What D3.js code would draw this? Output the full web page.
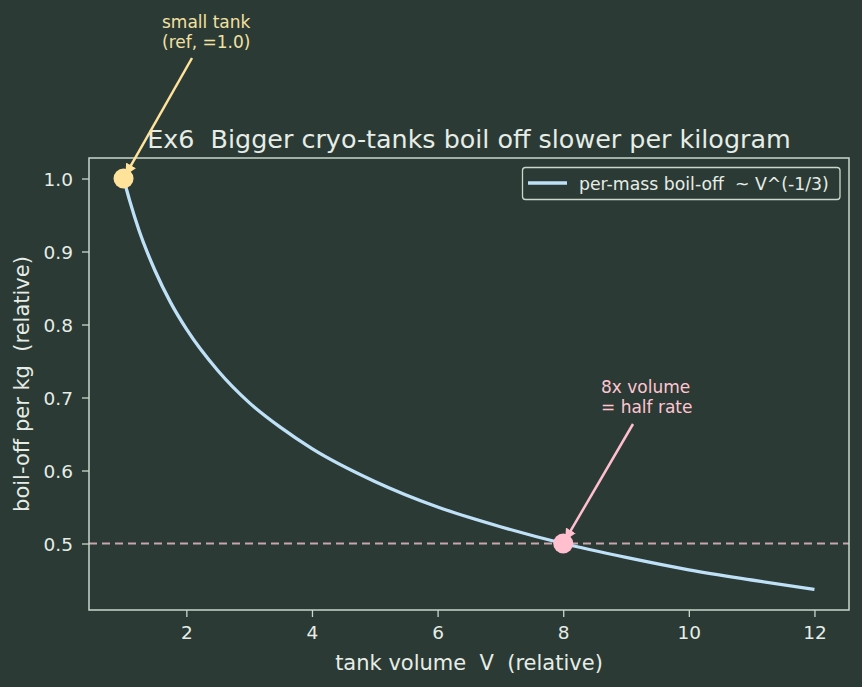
<!DOCTYPE html>
<html>
<head>
<meta charset="utf-8">
<script src="https://cdn.jsdelivr.net/npm/d3@7"></script>
<style>
  html, body { margin: 0; padding: 0; background: #2b3a34; }
  svg { display: block; }
  svg text { font-family: "DejaVu Sans", sans-serif; white-space: pre; }
</style>
</head>
<body>
<div id="chart"></div>
<script>
const volumes = [1, 1.1, 1.25, 1.5, 1.75, 2, 2.5, 3, 3.5, 4, 5, 6, 7, 8, 9, 10, 11, 12];
const boilOff = [1.0, 0.969, 0.928, 0.874, 0.830, 0.794, 0.737, 0.693, 0.659, 0.630, 0.585, 0.550, 0.523, 0.500, 0.481, 0.464, 0.450, 0.437];
const xTicks = [2, 4, 6, 8, 10, 12];
const yTicks = [0.5, 0.6, 0.7, 0.8, 0.9, 1.0];
const halfLine = 0.5;
const markers = [
  { v: 1, b: 1.0, color: '#ffe39a' },
  { v: 8, b: 0.5, color: '#ffbfcf' }
];

(function() {
  const width = 862;
  const height = 687;
  const margin = { top: 158, right: 13, bottom: 77, left: 89 };
  const fg = '#e6ede6';
  const spine = '#c9d8cb';
  const font = '"DejaVu Sans", sans-serif';

  const svg = d3.select('#chart')
    .append('svg')
    .attr('width', width)
    .attr('height', height);

  svg.append('rect').attr('width', width).attr('height', height).attr('fill', '#2b3a34');

  const x = d3.scaleLinear()
    .domain([0.45, 12.55])
    .range([margin.left, width - margin.right]);

  const y = d3.scaleLinear()
    .domain([0.4089, 1.0281])
    .range([height - margin.bottom, margin.top]);

  const defs = svg.append('defs');
  [['ahYellow', '#ffe39a'], ['ahPink', '#ffbfcf']].forEach(([id, c]) => {
    defs.append('marker')
      .attr('id', id)
      .attr('viewBox', '0 0 10 10')
      .attr('refX', 9).attr('refY', 5)
      .attr('markerWidth', 4.5).attr('markerHeight', 4.5)
      .attr('orient', 'auto')
      .append('path')
      .attr('d', 'M0,0 L10,5 L0,10 z')
      .attr('fill', c);
  });

  // dashed half-rate line
  svg.append('line')
    .attr('x1', x.range()[0]).attr('x2', x.range()[1])
    .attr('y1', y(halfLine)).attr('y2', y(halfLine))
    .attr('stroke', '#c9a6ad')
    .attr('stroke-width', 2.2)
    .attr('stroke-dasharray', '8,5');

  const pts = volumes.map((v, i) => ({ v, b: boilOff[i] }));
  svg.append('path')
    .datum(pts)
    .attr('fill', 'none')
    .attr('stroke', '#bfe1f8')
    .attr('stroke-width', 3.3)
    .attr('d', d3.line().x(d => x(d.v)).y(d => y(d.b)).curve(d3.curveMonotoneX));

  svg.append('g')
    .selectAll('circle')
    .data(markers)
    .enter()
    .append('circle')
    .attr('cx', d => x(d.v))
    .attr('cy', d => y(d.b))
    .attr('r', 10)
    .attr('fill', d => d.color);

  // frame
  svg.append('rect')
    .attr('x', margin.left).attr('y', margin.top)
    .attr('width', width - margin.left - margin.right)
    .attr('height', height - margin.top - margin.bottom)
    .attr('fill', 'none')
    .attr('stroke', spine)
    .attr('stroke-width', 1.5);

  const xAxis = svg.append('g')
    .attr('transform', `translate(0,${height - margin.bottom})`)
    .call(d3.axisBottom(x).tickValues(xTicks).tickSize(7).tickPadding(9).tickFormat(d3.format('d')));
  const yAxis = svg.append('g')
    .attr('transform', `translate(${margin.left},0)`)
    .call(d3.axisLeft(y).tickValues(yTicks).tickSize(7).tickPadding(9).tickFormat(d3.format('.1f')));
  [xAxis, yAxis].forEach(a => {
    a.attr('font-family', font).attr('font-size', 18.5);
    a.select('.domain').remove();
    a.selectAll('line').attr('stroke', spine).attr('stroke-width', 1.3);
    a.selectAll('text').attr('fill', fg);
  });
  yAxis.selectAll('text').attr('dy', '0.4em');

  svg.append('text')
    .attr('x', (margin.left + width - margin.right) / 2)
    .attr('y', 670)
    .attr('text-anchor', 'middle')
    .attr('fill', fg)
    .attr('font-size', 21)
    .text('tank volume  V  (relative)');

  svg.append('text')
    .attr('transform', `translate(29,${(margin.top + height - margin.bottom) / 2}) rotate(-90)`)
    .attr('text-anchor', 'middle')
    .attr('fill', fg)
    .attr('font-size', 21)
    .text('boil-off per kg  (relative)');

  svg.append('text')
    .attr('x', (margin.left + width - margin.right) / 2)
    .attr('y', 148)
    .attr('text-anchor', 'middle')
    .attr('fill', fg)
    .attr('font-size', 25.4)
    .text('Ex6  Bigger cryo-tanks boil off slower per kilogram');

  // legend
  const lg = svg.append('g');
  lg.append('rect')
    .attr('x', 522.5).attr('y', 167.5).attr('width', 317.5).attr('height', 32).attr('rx', 3)
    .attr('fill', '#2b3a34').attr('stroke', spine).attr('stroke-width', 1.3);
  lg.append('line')
    .attr('x1', 528).attr('x2', 567).attr('y1', 183).attr('y2', 183)
    .attr('stroke', '#bfe1f8').attr('stroke-width', 3.3);
  lg.append('text')
    .attr('x', 579).attr('y', 190)
    .attr('fill', fg)
    .attr('font-size', 17.3)
    .text('per-mass boil-off  ~ V^(-1/3)');

  // annotations
  const notes = [
    { lines: ['small tank', '(ref, =1.0)'], tx: 162, ty: 27.5, from: [192, 58], m: markers[0], color: '#f3e1a2', arrow: '#ffe39a', id: 'ahYellow' },
    { lines: ['8x volume', '= half rate'], tx: 601, ty: 392.5, from: [633, 424], m: markers[1], color: '#ffc6d2', arrow: '#ffbfcf', id: 'ahPink' }
  ];
  notes.forEach(n => {
    const t = svg.append('text').attr('fill', n.color).attr('font-size', 17);
    n.lines.forEach((l, i) => t.append('tspan').attr('x', n.tx).attr('y', n.ty + i * 20.5).text(l));
    const ex = x(n.m.v), ey = y(n.m.b);
    const dx = ex - n.from[0], dy = ey - n.from[1];
    const len = Math.hypot(dx, dy);
    const shrink = 5;
    svg.append('line')
      .attr('x1', n.from[0]).attr('y1', n.from[1])
      .attr('x2', ex - dx / len * shrink).attr('y2', ey - dy / len * shrink)
      .attr('stroke', n.arrow).attr('stroke-width', 2.5)
      .attr('marker-end', `url(#${n.id})`);
  });
})();
</script>
</body>
</html>
